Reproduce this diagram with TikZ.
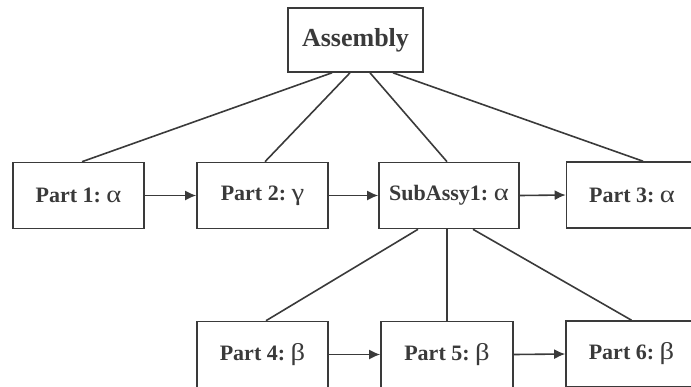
\documentclass[tikz,border=0pt]{standalone}
\usepackage{fontspec}
\setmainfont{Liberation Serif}
\usetikzlibrary{arrows.meta}
\definecolor{ink}{HTML}{3A3A3A}
\tikzset{
  box/.style={draw=ink, line width=1.6pt, fill=white, inner sep=0pt,
    minimum width=131pt, minimum height=66pt, text=ink,
    font=\fontsize{22}{24}\selectfont},
  topbox/.style={box, minimum width=135pt, minimum height=64pt,
    font=\fontsize{26}{28}\selectfont\bfseries},
  link/.style={draw=ink, line width=1.6pt},
  flow/.style={link, -{Latex[length=11pt,width=10pt]}},
}
% bold part name followed by a wide upright Greek class letter
\newcommand{\lbl}[2]{\textbf{#1}\ \scalebox{1.3}[1.1]{#2}}
\begin{document}
\begin{tikzpicture}[x=1pt,y=-1pt]
  \useasboundingbox (0,0) rectangle (691,386);
  \clip (0,0) rectangle (691,386);

  % assembly tree
  \node[topbox] (asm) at (355.5,40) {Assembly};
  \node[box] (p1) at (78.5,195.5) {\lbl{Part 1:}{α}};
  \node[box] (p2) at (262.5,195.5) {\lbl{Part 2:}{γ}};
  \node[box, minimum width=140pt] (sa) at (449,195.5) {\lbl{SubAssy1:}{α}};
  \node[box] (p3) at (632,195) {\lbl{Part 3:}{α}};
  \node[box] (p4) at (262.5,354.5) {\lbl{Part 4:}{β}};
  \node[box, minimum width=132pt] (p5) at (447,354.5) {\lbl{Part 5:}{β}};
  \node[box] (p6) at (631.5,354) {\lbl{Part 6:}{β}};

  % links from the assembly to its parts
  \draw[link] ([xshift=-23.5pt]asm.south) -- ([xshift=3.5pt]p1.north);
  \draw[link] ([xshift=-5.5pt]asm.south) -- ([xshift=2.5pt]p2.north);
  \draw[link] ([xshift=14.5pt]asm.south) -- ([xshift=-2pt]sa.north);
  \draw[link] ([xshift=37.5pt]asm.south) -- ([xshift=11pt]p3.north);

  % links from the subassembly to its parts
  \draw[link] ([xshift=-31pt]sa.south) -- ([xshift=3.5pt]p4.north);
  \draw[link] ([xshift=-2pt]sa.south) -- (p5.north);
  \draw[link] ([xshift=24pt]sa.south) -- (p6.north);

  % precedence arrows
  \draw[flow] (p1.east) -- (p2.west);
  \draw[flow] (p2.east) -- (sa.west);
  \draw[flow] (sa.east) -- (p3.west);
  \draw[flow] (p4.east) -- (p5.west);
  \draw[flow] (p5.east) -- (p6.west);
\end{tikzpicture}
\end{document}
